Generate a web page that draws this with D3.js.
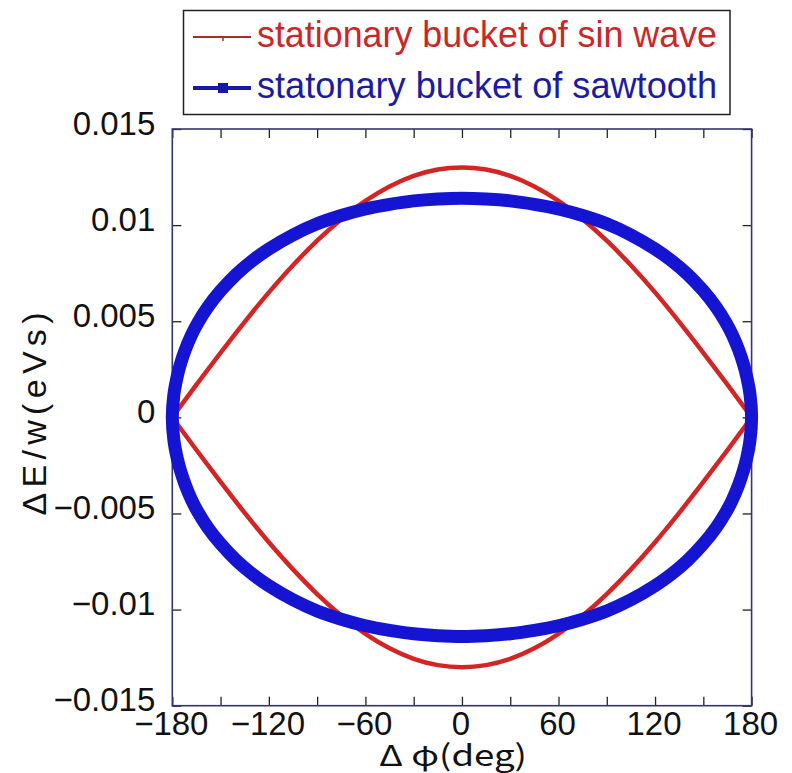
<!DOCTYPE html>
<html>
<head>
<meta charset="utf-8">
<script src="https://cdn.jsdelivr.net/npm/d3@7"></script>
<style>
  html, body { margin: 0; padding: 0; background: #fff; }
  svg { display: block; }
</style>
</head>
<body>
<svg id="chart" width="792" height="773"></svg>
<script>
// Phase offset (deg) and energy half-height (eVs) of each separatrix
const sinPhase = [-180, -165, -150, -135, -120, -105, -90, -75, -60, -45, -30, -15, 0,
                  15, 30, 45, 60, 75, 90, 105, 120, 135, 150, 165, 180];
const sinUpper = [0, 0.0017, 0.00336, 0.00497, 0.0065, 0.00791, 0.00919, 0.01031, 0.01126, 0.01201, 0.01256, 0.01289, 0.0130,
                  0.01289, 0.01256, 0.01201, 0.01126, 0.01031, 0.00919, 0.00791, 0.0065, 0.00497, 0.00336, 0.0017, 0];
const sinLower = [0, -0.0017, -0.00336, -0.00497, -0.0065, -0.00791, -0.00919, -0.01031, -0.01126, -0.01201, -0.01256, -0.01289, -0.0130,
                  -0.01289, -0.01256, -0.01201, -0.01126, -0.01031, -0.00919, -0.00791, -0.0065, -0.00497, -0.00336, -0.0017, 0];

const sawPhase = [-180, -179, -177, -175, -172, -168, -164, -158, -150, -140, -130, -120, -105, -90, -75, -60, -45, -30, -15, 0,
                  15, 30, 45, 60, 75, 90, 105, 120, 130, 140, 150, 158, 164, 168, 172, 175, 177, 179, 180];
const sawUpper = [0, 0.0012, 0.00211, 0.00275, 0.0035, 0.0043, 0.00494, 0.00573, 0.00658, 0.00746, 0.00817, 0.00876, 0.00949, 0.01007, 0.0105, 0.01084, 0.01108, 0.01126, 0.01136, 0.0114,
                  0.01136, 0.01126, 0.01108, 0.01084, 0.0105, 0.01007, 0.00949, 0.00876, 0.00817, 0.00746, 0.00658, 0.00573, 0.00494, 0.0043, 0.0035, 0.00275, 0.00211, 0.0012, 0];
const sawLower = [0, -0.0012, -0.00211, -0.00275, -0.0035, -0.0043, -0.00494, -0.00573, -0.00658, -0.00746, -0.00817, -0.00876, -0.00949, -0.01007, -0.0105, -0.01084, -0.01108, -0.01126, -0.01136, -0.0114,
                  -0.01136, -0.01126, -0.01108, -0.01084, -0.0105, -0.01007, -0.00949, -0.00876, -0.00817, -0.00746, -0.00658, -0.00573, -0.00494, -0.0043, -0.0035, -0.00275, -0.00211, -0.0012, 0];

const xTicks = [-180, -120, -60, 0, 60, 120, 180];
const xMinorTicks = [-150, -90, -30, 30, 90, 150];
const yTicks = [-0.015, -0.01, -0.005, 0, 0.005, 0.01, 0.015];
const yTickLabels = ["\u22120.015", "\u22120.01", "\u22120.005", "0", "0.005", "0.01", "0.015"];
const xTickLabels = ["\u2212180", "\u2212120", "\u221260", "0", "60", "120", "180"];

const seriesNames = ["stationary bucket of sin wave", "statonary bucket of sawtooth"];
const seriesColors = ["#d42424", "#1414d2"];
const legendTextColors = ["#cc2626", "#1c1ca0"];

const plot = { left: 172.3, right: 751.6, top: 129, bottom: 705.7 };
const svg = d3.select("#chart");

const x = d3.scaleLinear().domain([-180, 180]).range([plot.left, plot.right]);
const y = d3.scaleLinear().domain([-0.015, 0.015]).range([plot.bottom, plot.top]);

const frameColor = "#35356e";
const tickFont = "'Liberation Sans', Arial, sans-serif";

// Inward ticks on all four sides
const tickLen = 9;
const allX = xTicks.concat(xMinorTicks);
const g = svg.append("g");
g.append("g").attr("transform", `translate(0,${plot.bottom})`)
  .call(d3.axisBottom(x).tickValues(allX).tickSize(-tickLen).tickFormat(""))
  .call(s => s.select(".domain").remove());
g.append("g").attr("transform", `translate(0,${plot.top})`)
  .call(d3.axisTop(x).tickValues(allX).tickSize(-tickLen).tickFormat(""))
  .call(s => s.select(".domain").remove());
g.append("g").attr("transform", `translate(${plot.left},0)`)
  .call(d3.axisLeft(y).tickValues(yTicks).tickSize(-tickLen).tickFormat(""))
  .call(s => s.select(".domain").remove());
g.append("g").attr("transform", `translate(${plot.right},0)`)
  .call(d3.axisRight(y).tickValues(yTicks).tickSize(-tickLen).tickFormat(""))
  .call(s => s.select(".domain").remove());
g.selectAll(".tick line").attr("stroke", "#222").attr("stroke-width", 1.3);

// Frame
svg.append("rect")
  .attr("x", plot.left).attr("y", plot.top)
  .attr("width", plot.right - plot.left).attr("height", plot.bottom - plot.top)
  .attr("fill", "none").attr("stroke", frameColor).attr("stroke-width", 1.6);

// Tick labels
svg.append("g").selectAll("text").data(yTicks).join("text")
  .attr("x", plot.left - 17).attr("y", d => y(d) + 5.5)
  .attr("text-anchor", "end")
  .attr("font-family", tickFont).attr("font-size", 33).attr("fill", "#111")
  .text((d, i) => yTickLabels[i]);

svg.append("g").selectAll("text").data(xTicks).join("text")
  .attr("x", d => x(d) - 1).attr("y", 735)
  .attr("text-anchor", "middle")
  .attr("font-family", tickFont).attr("font-size", 33).attr("fill", "#111")
  .text((d, i) => xTickLabels[i]);

// Axis titles
svg.append("text")
  .attr("x", 453).attr("y", 766)
  .attr("text-anchor", "middle")
  .attr("font-family", "'Noto Sans CJK JP', 'Noto Sans', sans-serif")
  .attr("font-size", 29).attr("fill", "#111")
  .attr("textLength", 148).attr("lengthAdjust", "spacingAndGlyphs")
  .text("\u0394 \u03c6(deg)");

svg.append("text")
  .attr("transform", `translate(46,414) rotate(-90)`)
  .attr("text-anchor", "middle")
  .attr("font-family", tickFont)
  .attr("font-size", 34).attr("fill", "#111")
  .attr("textLength", 203).attr("lengthAdjust", "spacing")
  .text("\u0394E/w(eVs)");

// Separatrices: sin bucket as two halves meeting at sharp corners,
// sawtooth bucket as one smooth closed loop
const halfLine = d3.line().x(d => x(d[0])).y(d => y(d[1])).curve(d3.curveMonotoneX);
const loopLine = d3.line().x(d => x(d[0])).y(d => y(d[1])).curve(d3.curveCatmullRomClosed.alpha(0.5));

const sinHalves = [d3.zip(sinPhase, sinUpper), d3.zip(sinPhase, sinLower)];
const sawUpperPts = d3.zip(sawPhase, sawUpper);
const sawLowerPts = d3.zip(sawPhase, sawLower).reverse();
const sawLoop = sawUpperPts.concat(sawLowerPts.slice(1, -1));

svg.append("g").selectAll("path").data(sinHalves).join("path")
  .attr("d", halfLine).attr("fill", "none")
  .attr("stroke", seriesColors[0]).attr("stroke-width", 4.5)
  .attr("stroke-linejoin", "round").attr("stroke-linecap", "round");

svg.append("path")
  .datum(sawLoop)
  .attr("d", loopLine).attr("fill", "none")
  .attr("stroke", seriesColors[1]).attr("stroke-width", 13)
  .attr("stroke-linejoin", "round");

// Legend
const legend = svg.append("g");
legend.append("rect")
  .attr("x", 183.5).attr("y", 10.5).attr("width", 546.5).attr("height", 104)
  .attr("fill", "#fff").attr("stroke", "#222").attr("stroke-width", 1.5);

const rowsY = [37, 88];
seriesNames.forEach((name, i) => {
  const ry = rowsY[i];
  legend.append("line")
    .attr("x1", 193).attr("x2", 251).attr("y1", ry).attr("y2", ry)
    .attr("stroke", i === 0 ? "#b02a2a" : "#1818a8").attr("stroke-width", i === 0 ? 2 : 4);
  if (i === 0) {
    legend.append("line")
      .attr("x1", 223).attr("x2", 223).attr("y1", ry).attr("y2", ry + 4)
      .attr("stroke", "#b02a2a").attr("stroke-width", 1.5);
  } else {
    legend.append("rect")
      .attr("x", 218).attr("y", ry - 5).attr("width", 10).attr("height", 10)
      .attr("fill", "#1818a8");
  }
  legend.append("text")
    .attr("x", 257).attr("y", ry + 10)
    .attr("font-family", tickFont).attr("font-size", 36)
    .attr("fill", legendTextColors[i])
    .attr("textLength", 460).attr("lengthAdjust", "spacingAndGlyphs")
    .text(name);
});
</script>
</body>
</html>
